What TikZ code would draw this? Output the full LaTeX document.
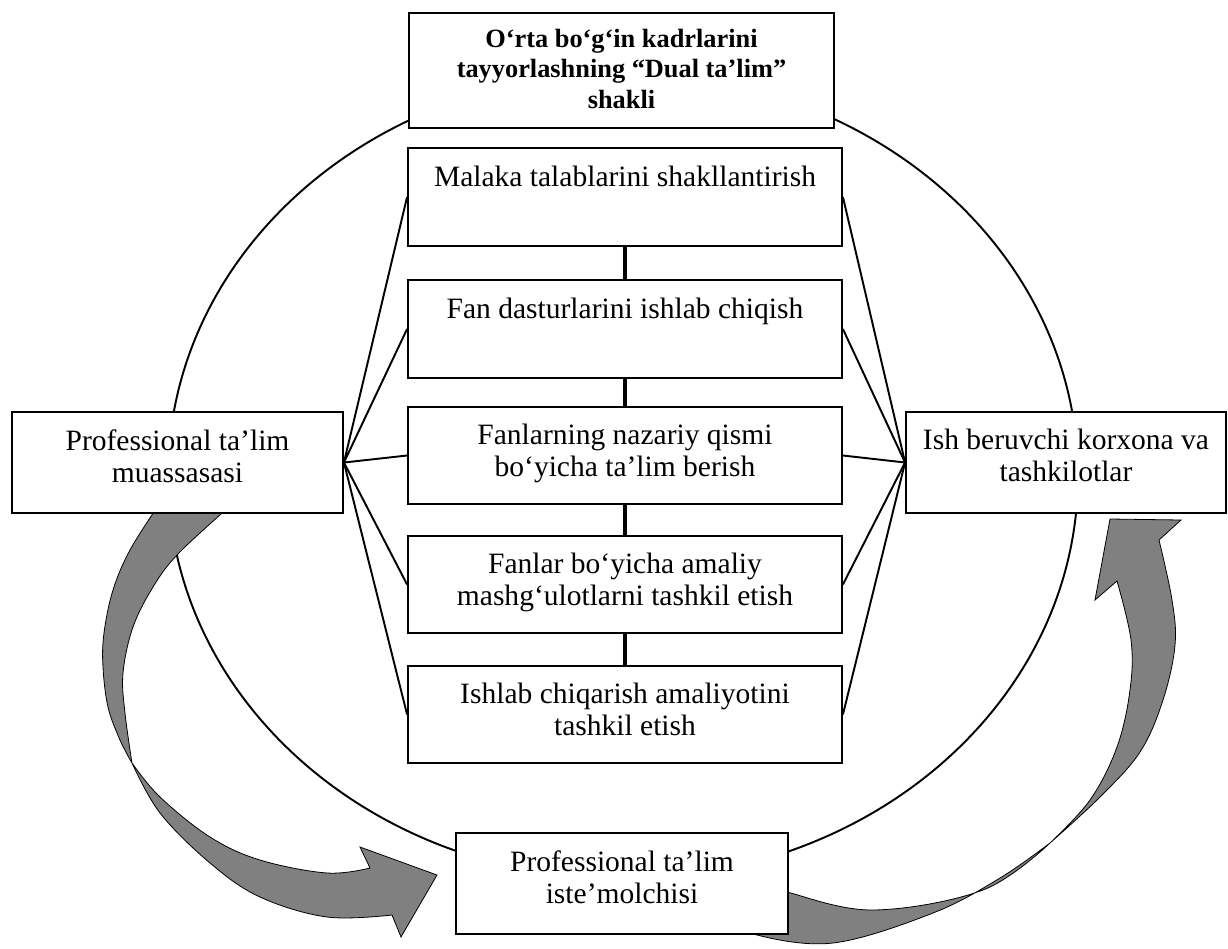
\documentclass[tikz,border=0pt]{standalone}
\usepackage{fontspec}
\setmainfont{Liberation Serif}
\begin{document}
\begin{tikzpicture}[x=0.02cm,y=-0.02cm,
  box/.style={draw, line width=1.1pt, fill=white, inner sep=0pt},
  midbox/.style={box, minimum width=8.68cm, minimum height=1.95cm},
  sidebox/.style={box, minimum height=2.02cm},
  txt/.style={inner sep=0pt, align=center, anchor=north, font=\fontsize{16.8}{18.2}\selectfont},
  ttl/.style={inner sep=0pt, align=center, anchor=north, font=\bfseries\fontsize{15}{17.5}\selectfont},
  fan/.style={line width=1.1pt},
  link/.style={line width=1.8pt},
  ring/.style={line width=1.1pt},
  bigarrow/.style={fill=black!50, draw=black, line width=0.45pt, line join=miter}
]
\useasboundingbox (0,0) rectangle (1228,948);

% outer ellipse
\draw[ring] (623,476) ellipse [x radius=9.1cm, y radius=8.06cm];

% left curved arrow
\path[bigarrow]
  plot[smooth, tension=0.6] coordinates {(158,506) (130,550) (113,590) (104,633) (103,667) (108,707) (120,740) (132,763)}
  -- plot[smooth, tension=0.6] coordinates {(132,763) (160,813) (210,863) (260,897) (327,917) (392,915)}
  -- (401,937) -- (437,875) -- (360,847) -- (370,868)
  -- plot[smooth, tension=0.6] coordinates {(370,868) (327,873) (260,860) (210,837) (160,797) (132,763)}
  -- plot[smooth, tension=0.6] coordinates {(132,763) (125,713) (123,673) (133,627) (153,587) (177,555) (222,513) (229,506)}
  -- cycle;

% right curved arrow
\path[bigarrow]
  plot[smooth, tension=0.6] coordinates {(735,918) (753,934) (833,943) (933,913) (1000,878) (1050,843)}
  -- plot[smooth, tension=0.6] coordinates {(1050,843) (1090,800) (1117,747) (1130,690) (1131,640) (1117,581)}
  -- (1095,600) -- (1110,519) -- (1181,520) -- (1159,540)
  -- plot[smooth, tension=0.6] coordinates {(1159,540) (1172,600) (1175,645) (1163,700) (1140,752) (1100,797) (1050,843)}
  -- plot[smooth, tension=0.6] coordinates {(1050,843) (983,890) (873,910) (787,892) (770,885)}
  -- cycle;

% boxes
\node[box, minimum width=8.5cm, minimum height=2.3cm] (T) at (621.5,70.5) {};
\node[midbox] (b1) at (625,197) {};
\node[midbox] (b2) at (625,329) {};
\node[midbox] (b3) at (625,455.5) {};
\node[midbox] (b4) at (625,584.5) {};
\node[midbox] (b5) at (625,714.5) {};
\node[sidebox, minimum width=6.62cm] (L) at (177.5,462.5) {};
\node[sidebox, minimum width=6.4cm] (R) at (1066,462.5) {};
\node[sidebox, minimum width=6.64cm] (B) at (622,883.5) {};

% fan connectors
\foreach \i in {1,...,5}{
  \draw[fan] (L.east) -- (b\i.west);
  \draw[fan] (R.west) -- (b\i.east);
}
% vertical links
\draw[link] (b1.south) -- (b2.north);
\draw[link] (b2.south) -- (b3.north);
\draw[link] (b3.south) -- (b4.north);
\draw[link] (b4.south) -- (b5.north);

% texts
\node[ttl] (tT) at ([yshift=-0.33cm]T.north) {O‘rta bo‘g‘in kadrlarini\\tayyorlashning “Dual ta’lim”\\shakli};
\node[txt] (t1) at ([yshift=-0.36cm]b1.north) {Malaka talablarini shakllantirish};
\node[txt] (t2) at ([yshift=-0.36cm]b2.north) {Fan dasturlarini ishlab chiqish};
\node[txt] (t3) at ([yshift=-0.36cm]b3.north) {Fanlarning nazariy qismi\\bo‘yicha ta’lim berish};
\node[txt] (t4) at ([yshift=-0.36cm]b4.north) {Fanlar bo‘yicha amaliy\\mashg‘ulotlarni tashkil etish};
\node[txt] (t5) at ([yshift=-0.36cm]b5.north) {Ishlab chiqarish amaliyotini\\tashkil etish};
\node[txt] (tL) at ([yshift=-0.36cm]L.north) {Professional ta’lim\\muassasasi};
\node[txt] (tR) at ([yshift=-0.36cm]R.north) {Ish beruvchi korxona va\\tashkilotlar};
\node[txt] (tB) at ([yshift=-0.36cm]B.north) {Professional ta’lim\\iste’molchisi};
\end{tikzpicture}
\end{document}
